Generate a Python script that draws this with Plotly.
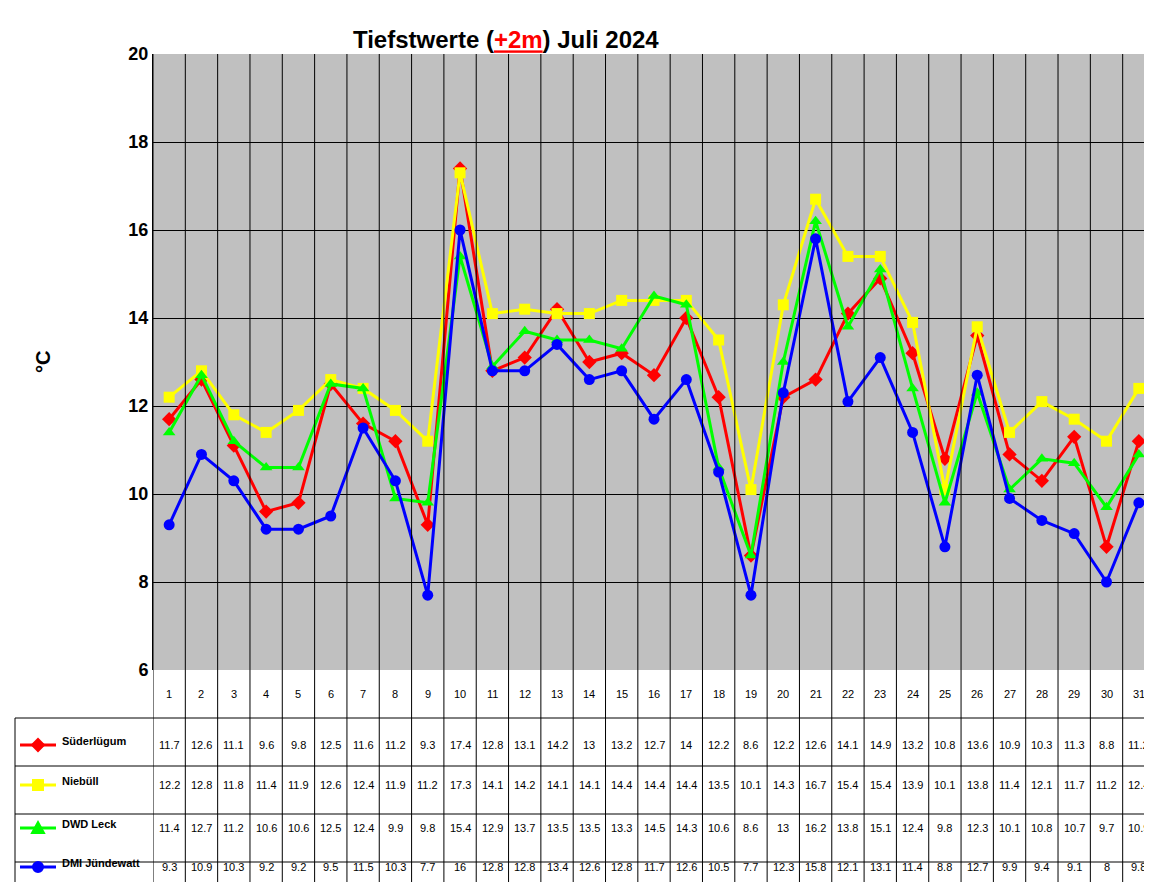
import plotly.graph_objects as go

days = list(range(1, 32))
names = ["Süderlügum", "Niebüll", "DWD Leck", "DMI Jündewatt"]
sud = [11.7,12.6,11.1,9.6,9.8,12.5,11.6,11.2,9.3,17.4,12.8,13.1,14.2,13,13.2,12.7,14,12.2,8.6,12.2,12.6,14.1,14.9,13.2,10.8,13.6,10.9,10.3,11.3,8.8,11.2]
nie = [12.2,12.8,11.8,11.4,11.9,12.6,12.4,11.9,11.2,17.3,14.1,14.2,14.1,14.1,14.4,14.4,14.4,13.5,10.1,14.3,16.7,15.4,15.4,13.9,10.1,13.8,11.4,12.1,11.7,11.2,12.4]
dwd = [11.4,12.7,11.2,10.6,10.6,12.5,12.4,9.9,9.8,15.4,12.9,13.7,13.5,13.5,13.3,14.5,14.3,10.6,8.6,13,16.2,13.8,15.1,12.4,9.8,12.3,10.1,10.8,10.7,9.7,10.9]
dmi = [9.3,10.9,10.3,9.2,9.2,9.5,11.5,10.3,7.7,16,12.8,12.8,13.4,12.6,12.8,11.7,12.6,10.5,7.7,12.3,15.8,12.1,13.1,11.4,8.8,12.7,9.9,9.4,9.1,8,9.8]
series = [sud, nie, dwd, dmi]
colors = ["#ff0000", "#ffff00", "#00ff00", "#0000ff"]
symbols = ["diamond", "square", "triangle-up", "circle"]

L, R, T, B = 145, 1147, 46, 662
W, H = 1152, 882
def px(x): return (x - L) / (R - L)
def py(y): return (B - y) / (B - T)

fig = go.Figure()
for n, s, c, m in zip(names, series, colors, symbols):
    fig.add_trace(go.Scatter(x=days, y=s, name=n, mode="lines+markers",
                             line=dict(color=c, width=3),
                             marker=dict(symbol=m, size=11, color=c), cliponaxis=False))

shapes, ann = [], []
# vertical grid lines in plot and table
for i in range(32):
    xv = i + 0.5
    shapes.append(dict(type="line", xref="x", yref="paper", x0=xv, x1=xv, y0=py(878), y1=1,
                       line=dict(color="black", width=1)))
shapes.append(dict(type="line", xref="paper", yref="paper", x0=px(7), x1=px(7), y0=py(710), y1=py(878),
                   line=dict(color="black", width=1)))
for yy in [710, 758, 806, 854, 878]:
    shapes.append(dict(type="line", xref="paper", yref="paper", x0=px(7), x1=1, y0=py(yy), y1=py(yy),
                       line=dict(color="black", width=1)))
for d in days:
    ann.append(dict(x=d, y=py(694), xref="x", yref="paper", text=str(d), showarrow=False,
                    font=dict(size=11, family="Arial", color="black")))
rowy = [745, 785, 828, 867]
for r, (n, s, c, m) in enumerate(zip(names, series, colors, symbols)):
    yr = rowy[r]
    for d, v in zip(days, s):
        ann.append(dict(x=d, y=py(yr), xref="x", yref="paper", text=f"{v:g}", showarrow=False,
                        font=dict(size=11, family="Arial", color="black")))
    ly = yr - 8
    shapes.append(dict(type="line", xref="paper", yref="paper", x0=px(12), x1=px(48), y0=py(ly), y1=py(ly),
                       line=dict(color=c, width=3)))
    cx, r0 = 30, 6
    if m == "diamond":
        path = f"M{px(cx-r0)},{py(ly)} L{px(cx)},{py(ly-r0)} L{px(cx+r0)},{py(ly)} L{px(cx)},{py(ly+r0)} Z"
        shapes.append(dict(type="path", xref="paper", yref="paper", path=path, fillcolor=c, line=dict(color=c)))
    elif m == "square":
        shapes.append(dict(type="rect", xref="paper", yref="paper", x0=px(cx-5), x1=px(cx+5), y0=py(ly+5), y1=py(ly-5),
                           fillcolor=c, line=dict(color=c)))
    elif m == "triangle-up":
        path = f"M{px(cx-6)},{py(ly+5)} L{px(cx)},{py(ly-6)} L{px(cx+6)},{py(ly+5)} Z"
        shapes.append(dict(type="path", xref="paper", yref="paper", path=path, fillcolor=c, line=dict(color=c)))
    else:
        shapes.append(dict(type="circle", xref="paper", yref="paper", x0=px(cx-5), x1=px(cx+5), y0=py(ly+5), y1=py(ly-5),
                           fillcolor=c, line=dict(color=c)))
    ann.append(dict(x=px(52), y=py(yr-4), xref="paper", yref="paper", text=f"<b>{n}</b>", showarrow=False,
                    xanchor="left", font=dict(size=11, family="Arial", color="black")))

ann.append(dict(x=px(22), y=py(354), xref="paper", yref="paper", text="<b>°C</b>", showarrow=False,
                textangle=-90, font=dict(size=20, family="Arial", color="black")))

fig.update_layout(
    width=W, height=H, margin=dict(l=L, r=W - R, t=T, b=H - B),
    plot_bgcolor="#c0c0c0", paper_bgcolor="white", showlegend=False,
    title=dict(text="<b>Tiefstwerte (<span style='color:red'><u>+2m</u></span>) Juli 2024</b>",
               x=px(578), xanchor="center", y=1 - 32 / H, yanchor="middle",
               font=dict(size=24, family="Arial", color="black")),
    xaxis=dict(range=[0.5, 31.5], showgrid=False, showticklabels=False, zeroline=False),
    yaxis=dict(range=[6, 20], dtick=2, gridcolor="black", gridwidth=1, zeroline=False,
               tickfont=dict(size=18, family="Arial", color="black"), ticks="", showline=True, linecolor="black"),
    shapes=shapes, annotations=ann,
)
fig.update_yaxes(tickprefix="<b>", ticksuffix="</b>")
fig.write_html("out.html")
